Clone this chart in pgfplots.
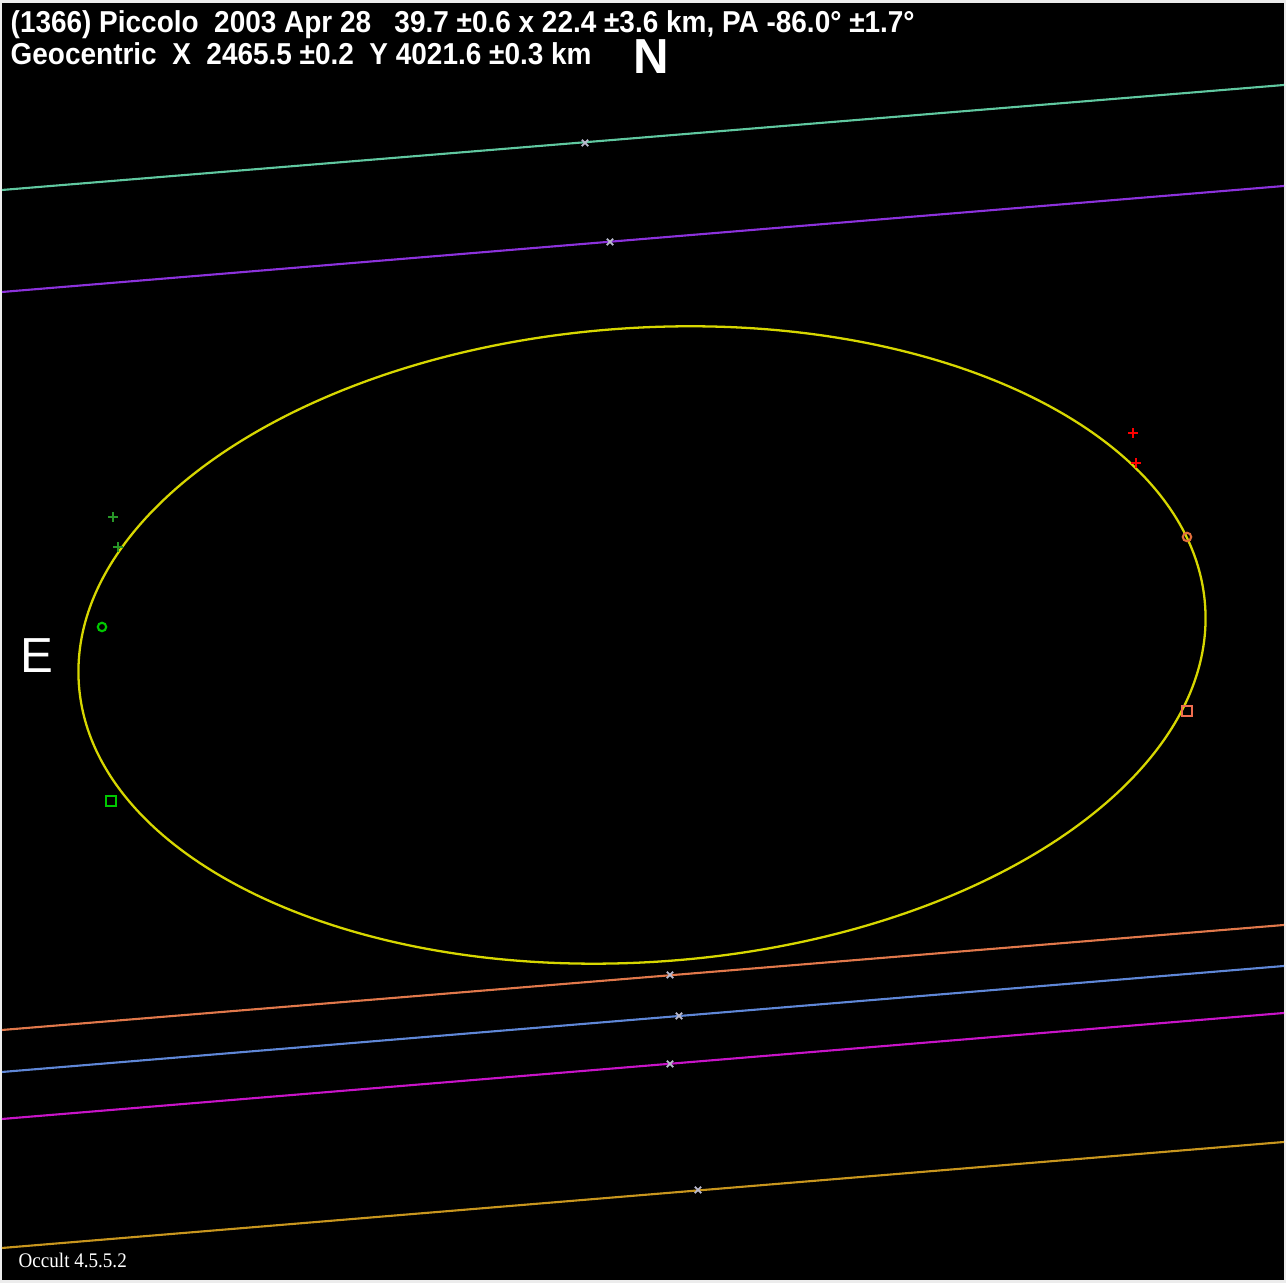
\documentclass[border=0pt]{standalone}
\usepackage{pgfplots}
\pgfplotsset{compat=1.18}
\usepackage{fontspec}
\setmainfont{Liberation Sans}
\newfontfamily\occfont{Liberation Serif}
\usepackage{graphicx}

\definecolor{chordA}{RGB}{96,200,160}
\definecolor{chordB}{RGB}{140,50,220}
\definecolor{chordC}{RGB}{225,120,75}
\definecolor{chordD}{RGB}{95,135,215}
\definecolor{chordE}{RGB}{200,20,200}
\definecolor{chordF}{RGB}{200,150,30}
\definecolor{ellcol}{RGB}{215,215,0}
\definecolor{midcol}{RGB}{185,185,205}
\definecolor{grnD}{RGB}{40,150,40}
\definecolor{grnR}{RGB}{0,200,0}
\definecolor{redD}{RGB}{255,0,0}
\definecolor{orR}{RGB}{225,110,60}
\definecolor{orS}{RGB}{240,110,80}

\begin{document}
\begin{tikzpicture}
\fill[white!85!gray] (0,0) rectangle (12.86,12.83);
\fill[black] (0.02,0.03) rectangle (12.84,12.80);
\begin{axis}[
  at={(0,0)}, anchor=south west,
  scale only axis, width=12.86cm, height=12.83cm,
  xmin=0, xmax=1286, ymin=0, ymax=1283,
  y dir=reverse,
  axis lines=none, ticks=none,
  clip=true,
  every axis plot/.append style={line width=0.6pt},
]
  % chords (image pixel coordinates)
  \addplot[chordA, no marks] coordinates {(2,190) (1284,85)};
  \addplot[chordB, no marks] coordinates {(2,292) (1284,186)};
  \addplot[chordC, no marks] coordinates {(2,1030) (1284,925)};
  \addplot[chordD, no marks] coordinates {(2,1072) (1284,966)};
  \addplot[chordE, no marks] coordinates {(2,1119) (1284,1013)};
  \addplot[chordF, no marks] coordinates {(2,1248) (1284,1142)};

  % chord mid markers
  \addplot[only marks, mark=x, mark size=1.3pt, midcol, mark options={line width=0.5pt}]
    coordinates {(585,143) (610,242) (670,975) (679,1016) (670,1064) (698,1190)};

  % fitted profile
  \draw[ellcol, line width=0.65pt, rotate around={4:(axis cs:642,645)}]
    (axis cs:642,645) ellipse [x radius=5.645cm, y radius=3.17cm];

  % disappear / reappear points
  \addplot[only marks, mark=+, mark size=1.3pt, grnD, mark options={line width=0.6pt}]
    coordinates {(113,517) (118,547)};
  \addplot[only marks, mark=o, mark size=1.2pt, grnR, mark options={line width=0.6pt}]
    coordinates {(102,627)};
  \addplot[only marks, mark=square, mark size=1.4pt, grnR, mark options={line width=0.6pt}]
    coordinates {(111,801)};
  \addplot[only marks, mark=+, mark size=1.3pt, redD, mark options={line width=0.6pt}]
    coordinates {(1133,433) (1136,463)};
  \addplot[only marks, mark=o, mark size=1.2pt, orR, mark options={line width=0.6pt}]
    coordinates {(1187,537)};
  \addplot[only marks, mark=square, mark size=1.4pt, orS, mark options={line width=0.6pt}]
    coordinates {(1187,711)};

  % labels
  \node[anchor=base west, inner sep=0, text=white, font=\fontsize{8.6}{10}\selectfont\bfseries]
    at (axis cs:10,33) {\scalebox{0.925}[1]{(1366) Piccolo\ \ 2003 Apr 28\ \ \ 39.7 ±0.6 x 22.4 ±3.6 km, PA -86.0° ±1.7°}};
  \node[anchor=base west, inner sep=0, text=white, font=\fontsize{8.6}{10}\selectfont\bfseries]
    at (axis cs:10,65) {\scalebox{0.925}[1]{Geocentric\ \ X\ \ 2465.5 ±0.2\ \ Y 4021.6 ±0.3 km}};
  \node[anchor=base, inner sep=0, text=white, font=\fontsize{14}{16}\selectfont\bfseries]
    at (axis cs:651,74) {N};
  \node[anchor=base, inner sep=0, text=white, font=\fontsize{14}{16}\selectfont]
    at (axis cs:37,673) {E};
  \node[anchor=base west, inner sep=0, text=white, font=\fontsize{5.9}{7}\selectfont\occfont]
    at (axis cs:18,1268) {\scalebox{0.92}[1]{Occult 4.5.5.2}};
\end{axis}
\end{tikzpicture}
\end{document}
